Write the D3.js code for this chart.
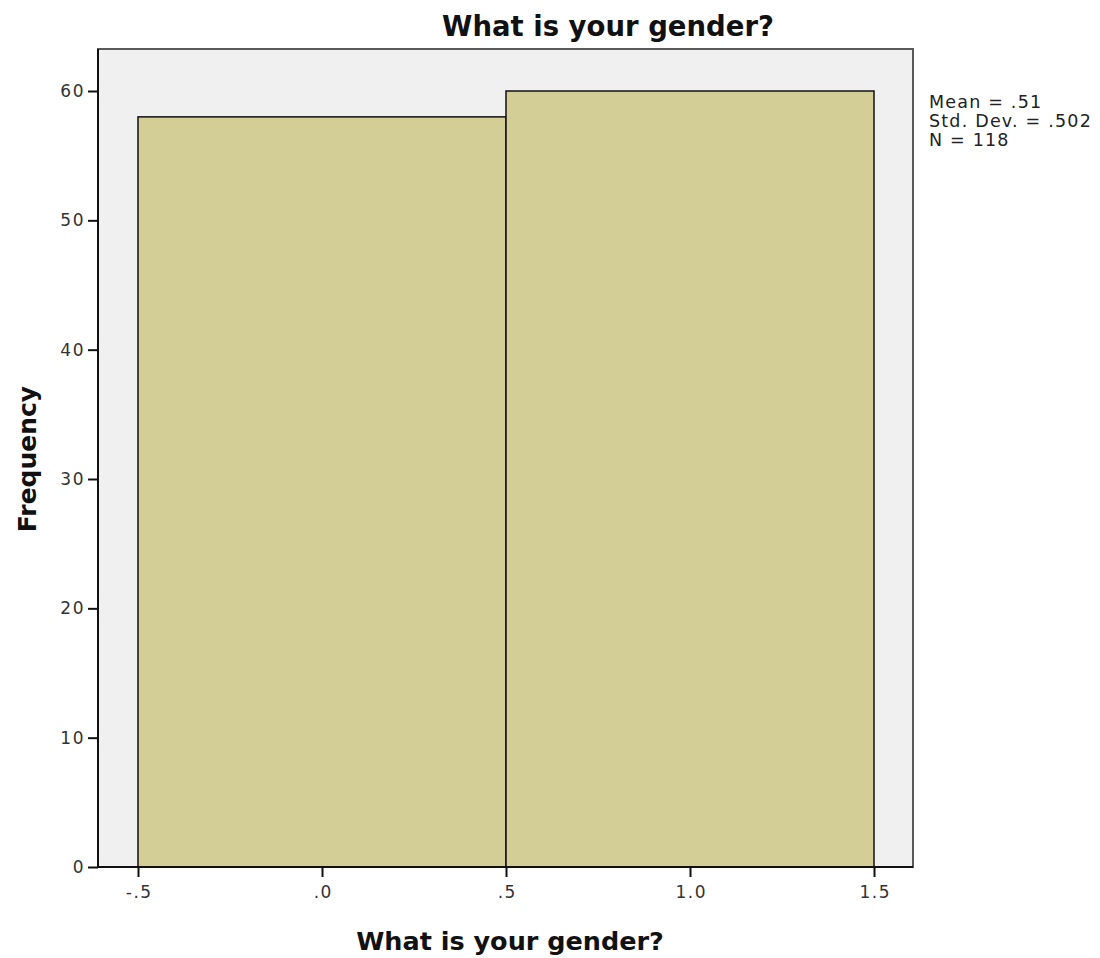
<!DOCTYPE html>
<html><head><meta charset="utf-8">
<script src="https://cdn.jsdelivr.net/npm/d3@7"></script>
<style>body{margin:0;background:#fff}text{font-family:"DejaVu Sans",sans-serif}</style>
</head><body><svg id="c" width="1100" height="958"></svg>
<script>
const binStarts = [-0.5, 0.5];
const binEnds = [0.5, 1.5];
const counts = [58, 60];
const xTicks = [-0.5, 0, 0.5, 1.0, 1.5];
const xTickLabels = ["-.5", ".0", ".5", "1.0", "1.5"];
const yTicks = [0, 10, 20, 30, 40, 50, 60];
const stats = ["Mean = .51", "Std. Dev. = .502", "N = 118"];
const title = "What is your gender?";
const xTitle = "What is your gender?";
const yTitle = "Frequency";

const svg = d3.select("#c");
const frame = {l: 98, t: 49, r: 913, b: 867};
const x = d3.scaleLinear().domain([-0.5, 1.5]).range([138, 874]);
const y = d3.scaleLinear().domain([0, 60]).range([867, 91]);

svg.append("rect").attr("x", frame.l).attr("y", frame.t).attr("width", frame.r - frame.l).attr("height", frame.b - frame.t)
  .attr("fill", "#f0f0f0").attr("stroke", "#5a5a5a").attr("stroke-width", 2);

svg.selectAll("rect.bar").data(counts).join("rect").attr("class", "bar")
  .attr("x", (d, i) => x(binStarts[i])).attr("width", (d, i) => x(binEnds[i]) - x(binStarts[i]))
  .attr("y", d => y(d)).attr("height", d => y(0) - y(d))
  .attr("fill", "#d3cd96").attr("stroke", "#111").attr("stroke-width", 1.5);

const xAxis = d3.axisBottom(x).tickValues(xTicks).tickFormat((d, i) => xTickLabels[i]).tickSize(10).tickPadding(9);
const gx = svg.append("g").attr("transform", `translate(0,${frame.b})`).call(xAxis);
gx.select(".domain").attr("d", `M${frame.l},0H${frame.r}`).attr("stroke", "#111").attr("stroke-width", 2);
gx.selectAll(".tick line").attr("stroke", "#111").attr("stroke-width", 2);
gx.selectAll(".tick text").attr("font-size", 17).attr("letter-spacing", 1.5).attr("dx", 0.75).attr("fill", "#333").attr("font-family", "DejaVu Sans");

const yAxis = d3.axisLeft(y).tickValues(yTicks).tickFormat(d3.format("d")).tickSize(10).tickPadding(3);
const gy = svg.append("g").attr("transform", `translate(${frame.l},0)`).call(yAxis);
gy.select(".domain").attr("d", `M0,${frame.t}V${frame.b}`).attr("stroke", "#111").attr("stroke-width", 2);
gy.selectAll(".tick line").attr("stroke", "#111").attr("stroke-width", 2);
gy.selectAll(".tick text").attr("font-size", 17).attr("letter-spacing", 1.5).attr("fill", "#333").attr("font-family", "DejaVu Sans");

svg.append("text").attr("x", 608).attr("y", 36).attr("text-anchor", "middle")
  .attr("font-size", 27.5).attr("font-weight", "bold").attr("fill", "#111").text(title);
svg.append("text").attr("x", 510).attr("y", 950).attr("text-anchor", "middle")
  .attr("font-size", 25.5).attr("font-weight", "bold").attr("fill", "#111").text(xTitle);
svg.append("text").attr("transform", "translate(36,459) rotate(-90)").attr("text-anchor", "middle")
  .attr("font-size", 25).attr("font-weight", "bold").attr("fill", "#111").text(yTitle);

svg.append("g").selectAll("text").data(stats).join("text")
  .attr("x", 929).attr("y", (d, i) => 108 + i * 19).attr("font-size", 17.5).attr("letter-spacing", 1.2).attr("fill", "#222").text(d => d);
</script></body></html>
